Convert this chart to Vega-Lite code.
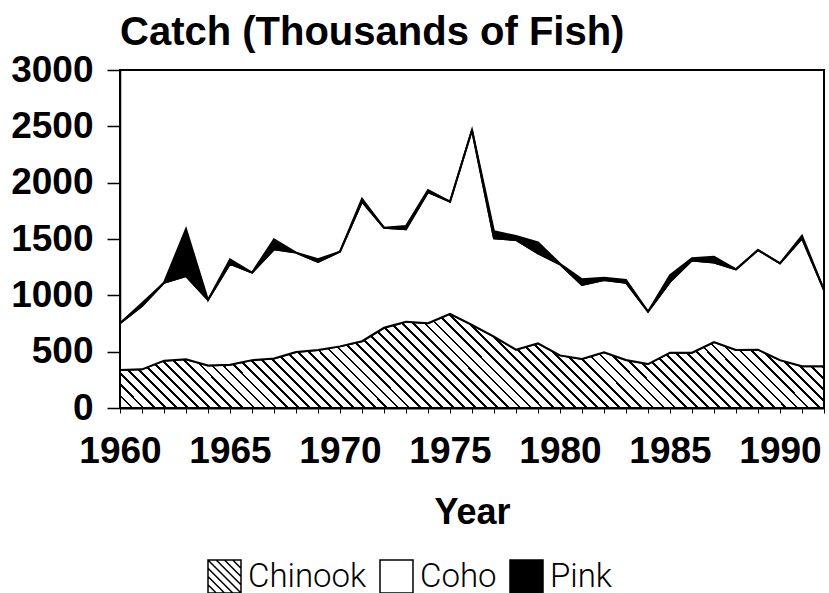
{
  "$schema": "https://vega.github.io/schema/vega-lite/v6.json",
  "width": 704,
  "height": 338,
  "autosize": {"type": "none"},
  "padding": {"left": 120, "top": 70, "right": 5, "bottom": 185},
  "background": "white",
  "title": {"text": "Catch (Thousands of Fish)", "anchor": "start", "frame": "group", "font": "Liberation Sans", "fontSize": 40, "fontWeight": "bold", "color": "black", "offset": -2},
  "config": {"view": {"stroke": "black", "strokeWidth": 2}},
  "data": {"values": [
    {"year": 1960, "Chinook": 337, "Coho": 415, "Pink": 0},
    {"year": 1961, "Chinook": 343, "Coho": 562, "Pink": 25},
    {"year": 1962, "Chinook": 420, "Coho": 692, "Pink": 0},
    {"year": 1963, "Chinook": 432, "Coho": 740, "Pink": 417},
    {"year": 1964, "Chinook": 378, "Coho": 581, "Pink": 0},
    {"year": 1965, "Chinook": 383, "Coho": 897, "Pink": 40},
    {"year": 1966, "Chinook": 425, "Coho": 776, "Pink": 0},
    {"year": 1967, "Chinook": 440, "Coho": 968, "Pink": 89},
    {"year": 1968, "Chinook": 497, "Coho": 882, "Pink": 0},
    {"year": 1969, "Chinook": 515, "Coho": 781, "Pink": 24},
    {"year": 1970, "Chinook": 547, "Coho": 841, "Pink": 0},
    {"year": 1971, "Chinook": 593, "Coho": 1238, "Pink": 27},
    {"year": 1972, "Chinook": 712, "Coho": 888, "Pink": 0},
    {"year": 1973, "Chinook": 766, "Coho": 820, "Pink": 29},
    {"year": 1974, "Chinook": 752, "Coho": 1165, "Pink": 18},
    {"year": 1975, "Chinook": 836, "Coho": 995, "Pink": 0},
    {"year": 1976, "Chinook": 737, "Coho": 1731, "Pink": 0},
    {"year": 1977, "Chinook": 633, "Coho": 873, "Pink": 62},
    {"year": 1978, "Chinook": 518, "Coho": 973, "Pink": 36},
    {"year": 1979, "Chinook": 574, "Coho": 799, "Pink": 98},
    {"year": 1980, "Chinook": 467, "Coho": 808, "Pink": 5},
    {"year": 1981, "Chinook": 435, "Coho": 657, "Pink": 50},
    {"year": 1982, "Chinook": 495, "Coho": 641, "Pink": 21},
    {"year": 1983, "Chinook": 426, "Coho": 686, "Pink": 24},
    {"year": 1984, "Chinook": 390, "Coho": 465, "Pink": 0},
    {"year": 1985, "Chinook": 491, "Coho": 629, "Pink": 58},
    {"year": 1986, "Chinook": 491, "Coho": 819, "Pink": 19},
    {"year": 1987, "Chinook": 585, "Coho": 707, "Pink": 51},
    {"year": 1988, "Chinook": 515, "Coho": 716, "Pink": 0},
    {"year": 1989, "Chinook": 518, "Coho": 884, "Pink": 0},
    {"year": 1990, "Chinook": 425, "Coho": 859, "Pink": 0},
    {"year": 1991, "Chinook": 370, "Coho": 1136, "Pink": 24},
    {"year": 1992, "Chinook": 370, "Coho": 677, "Pink": 0}
  ]},
  "transform": [{"fold": ["Chinook", "Coho", "Pink"], "as": ["species", "catch"]}],
  "encoding": {
    "x": {
      "field": "year", "type": "quantitative",
      "scale": {"domain": [1960, 1992], "nice": false, "zero": false},
      "axis": {
        "values": [1960,1961,1962,1963,1964,1965,1966,1967,1968,1969,1970,1971,1972,1973,1974,1975,1976,1977,1978,1979,1980,1981,1982,1983,1984,1985,1986,1987,1988,1989,1990,1991,1992],
        "labelExpr": "datum.value % 5 === 0 ? datum.label : ''",
        "format": "d", "grid": false,
        "tickSize": 5, "tickWidth": 1, "tickColor": "black",
        "domainColor": "black", "domainWidth": 2,
        "labelFont": "Liberation Sans", "labelFontSize": 37, "labelFontWeight": "bold", "labelColor": "black",
        "labelPadding": 20, "labelFlush": false, "labelOverlap": false, "labelBound": false,
        "title": "Year", "titleFont": "Liberation Sans", "titleFontSize": 36, "titleFontWeight": "bold", "titleColor": "black", "titlePadding": 26
      }
    },
    "y": {
      "field": "catch", "type": "quantitative", "stack": "zero",
      "scale": {"domain": [0, 3000], "nice": false},
      "axis": {
        "values": [0, 500, 1000, 1500, 2000, 2500, 3000],
        "format": "d", "grid": false, "title": null,
        "tickSize": 13, "tickWidth": 1.5, "tickColor": "black",
        "domainColor": "black", "domainWidth": 1.5,
        "labelFont": "Liberation Sans", "labelFontSize": 37, "labelFontWeight": "bold", "labelColor": "black",
        "labelPadding": 14
      }
    },
    "order": {"field": "species", "sort": "ascending"}
  },
  "layer": [
    {
      "mark": {"type": "area", "stroke": "black", "strokeWidth": 2, "interpolate": "linear"},
      "encoding": {
        "detail": {"field": "species", "type": "nominal"},
        "fill": {
          "condition": [
            {"test": "datum.species === 'Chinook'", "value": {"gradient": "linear", "x1": 0, "y1": 1, "x2": 1.1137, "y2": 0.8513, "stops": [
            {"offset":0,"color":"#000"},{"offset":0.0035,"color":"#000"},{"offset":0.0035,"color":"#fff"},{"offset":0.0139,"color":"#fff"},
            {"offset":0.0139,"color":"#000"},{"offset":0.0174,"color":"#000"},{"offset":0.0174,"color":"#fff"},{"offset":0.0278,"color":"#fff"},
            {"offset":0.0278,"color":"#000"},{"offset":0.0313,"color":"#000"},{"offset":0.0313,"color":"#fff"},{"offset":0.0417,"color":"#fff"},
            {"offset":0.0417,"color":"#000"},{"offset":0.0452,"color":"#000"},{"offset":0.0452,"color":"#fff"},{"offset":0.0556,"color":"#fff"},
            {"offset":0.0556,"color":"#000"},{"offset":0.0591,"color":"#000"},{"offset":0.0591,"color":"#fff"},{"offset":0.0694,"color":"#fff"},
            {"offset":0.0694,"color":"#000"},{"offset":0.0729,"color":"#000"},{"offset":0.0729,"color":"#fff"},{"offset":0.0833,"color":"#fff"},
            {"offset":0.0833,"color":"#000"},{"offset":0.0868,"color":"#000"},{"offset":0.0868,"color":"#fff"},{"offset":0.0972,"color":"#fff"},
            {"offset":0.0972,"color":"#000"},{"offset":0.1007,"color":"#000"},{"offset":0.1007,"color":"#fff"},{"offset":0.1111,"color":"#fff"},
            {"offset":0.1111,"color":"#000"},{"offset":0.1146,"color":"#000"},{"offset":0.1146,"color":"#fff"},{"offset":0.125,"color":"#fff"},
            {"offset":0.125,"color":"#000"},{"offset":0.1285,"color":"#000"},{"offset":0.1285,"color":"#fff"},{"offset":0.1389,"color":"#fff"},
            {"offset":0.1389,"color":"#000"},{"offset":0.1424,"color":"#000"},{"offset":0.1424,"color":"#fff"},{"offset":0.1528,"color":"#fff"},
            {"offset":0.1528,"color":"#000"},{"offset":0.1563,"color":"#000"},{"offset":0.1563,"color":"#fff"},{"offset":0.1667,"color":"#fff"},
            {"offset":0.1667,"color":"#000"},{"offset":0.1702,"color":"#000"},{"offset":0.1702,"color":"#fff"},{"offset":0.1806,"color":"#fff"},
            {"offset":0.1806,"color":"#000"},{"offset":0.1841,"color":"#000"},{"offset":0.1841,"color":"#fff"},{"offset":0.1944,"color":"#fff"},
            {"offset":0.1944,"color":"#000"},{"offset":0.1979,"color":"#000"},{"offset":0.1979,"color":"#fff"},{"offset":0.2083,"color":"#fff"},
            {"offset":0.2083,"color":"#000"},{"offset":0.2118,"color":"#000"},{"offset":0.2118,"color":"#fff"},{"offset":0.2222,"color":"#fff"},
            {"offset":0.2222,"color":"#000"},{"offset":0.2257,"color":"#000"},{"offset":0.2257,"color":"#fff"},{"offset":0.2361,"color":"#fff"},
            {"offset":0.2361,"color":"#000"},{"offset":0.2396,"color":"#000"},{"offset":0.2396,"color":"#fff"},{"offset":0.25,"color":"#fff"},
            {"offset":0.25,"color":"#000"},{"offset":0.2535,"color":"#000"},{"offset":0.2535,"color":"#fff"},{"offset":0.2639,"color":"#fff"},
            {"offset":0.2639,"color":"#000"},{"offset":0.2674,"color":"#000"},{"offset":0.2674,"color":"#fff"},{"offset":0.2778,"color":"#fff"},
            {"offset":0.2778,"color":"#000"},{"offset":0.2813,"color":"#000"},{"offset":0.2813,"color":"#fff"},{"offset":0.2917,"color":"#fff"},
            {"offset":0.2917,"color":"#000"},{"offset":0.2952,"color":"#000"},{"offset":0.2952,"color":"#fff"},{"offset":0.3056,"color":"#fff"},
            {"offset":0.3056,"color":"#000"},{"offset":0.3091,"color":"#000"},{"offset":0.3091,"color":"#fff"},{"offset":0.3194,"color":"#fff"},
            {"offset":0.3194,"color":"#000"},{"offset":0.3229,"color":"#000"},{"offset":0.3229,"color":"#fff"},{"offset":0.3333,"color":"#fff"},
            {"offset":0.3333,"color":"#000"},{"offset":0.3368,"color":"#000"},{"offset":0.3368,"color":"#fff"},{"offset":0.3472,"color":"#fff"},
            {"offset":0.3472,"color":"#000"},{"offset":0.3507,"color":"#000"},{"offset":0.3507,"color":"#fff"},{"offset":0.3611,"color":"#fff"},
            {"offset":0.3611,"color":"#000"},{"offset":0.3646,"color":"#000"},{"offset":0.3646,"color":"#fff"},{"offset":0.375,"color":"#fff"},
            {"offset":0.375,"color":"#000"},{"offset":0.3785,"color":"#000"},{"offset":0.3785,"color":"#fff"},{"offset":0.3889,"color":"#fff"},
            {"offset":0.3889,"color":"#000"},{"offset":0.3924,"color":"#000"},{"offset":0.3924,"color":"#fff"},{"offset":0.4028,"color":"#fff"},
            {"offset":0.4028,"color":"#000"},{"offset":0.4063,"color":"#000"},{"offset":0.4063,"color":"#fff"},{"offset":0.4167,"color":"#fff"},
            {"offset":0.4167,"color":"#000"},{"offset":0.4202,"color":"#000"},{"offset":0.4202,"color":"#fff"},{"offset":0.4306,"color":"#fff"},
            {"offset":0.4306,"color":"#000"},{"offset":0.4341,"color":"#000"},{"offset":0.4341,"color":"#fff"},{"offset":0.4444,"color":"#fff"},
            {"offset":0.4444,"color":"#000"},{"offset":0.4479,"color":"#000"},{"offset":0.4479,"color":"#fff"},{"offset":0.4583,"color":"#fff"},
            {"offset":0.4583,"color":"#000"},{"offset":0.4618,"color":"#000"},{"offset":0.4618,"color":"#fff"},{"offset":0.4722,"color":"#fff"},
            {"offset":0.4722,"color":"#000"},{"offset":0.4757,"color":"#000"},{"offset":0.4757,"color":"#fff"},{"offset":0.4861,"color":"#fff"},
            {"offset":0.4861,"color":"#000"},{"offset":0.4896,"color":"#000"},{"offset":0.4896,"color":"#fff"},{"offset":0.5,"color":"#fff"},
            {"offset":0.5,"color":"#000"},{"offset":0.5035,"color":"#000"},{"offset":0.5035,"color":"#fff"},{"offset":0.5139,"color":"#fff"},
            {"offset":0.5139,"color":"#000"},{"offset":0.5174,"color":"#000"},{"offset":0.5174,"color":"#fff"},{"offset":0.5278,"color":"#fff"},
            {"offset":0.5278,"color":"#000"},{"offset":0.5313,"color":"#000"},{"offset":0.5313,"color":"#fff"},{"offset":0.5417,"color":"#fff"},
            {"offset":0.5417,"color":"#000"},{"offset":0.5452,"color":"#000"},{"offset":0.5452,"color":"#fff"},{"offset":0.5556,"color":"#fff"},
            {"offset":0.5556,"color":"#000"},{"offset":0.5591,"color":"#000"},{"offset":0.5591,"color":"#fff"},{"offset":0.5694,"color":"#fff"},
            {"offset":0.5694,"color":"#000"},{"offset":0.5729,"color":"#000"},{"offset":0.5729,"color":"#fff"},{"offset":0.5833,"color":"#fff"},
            {"offset":0.5833,"color":"#000"},{"offset":0.5868,"color":"#000"},{"offset":0.5868,"color":"#fff"},{"offset":0.5972,"color":"#fff"},
            {"offset":0.5972,"color":"#000"},{"offset":0.6007,"color":"#000"},{"offset":0.6007,"color":"#fff"},{"offset":0.6111,"color":"#fff"},
            {"offset":0.6111,"color":"#000"},{"offset":0.6146,"color":"#000"},{"offset":0.6146,"color":"#fff"},{"offset":0.625,"color":"#fff"},
            {"offset":0.625,"color":"#000"},{"offset":0.6285,"color":"#000"},{"offset":0.6285,"color":"#fff"},{"offset":0.6389,"color":"#fff"},
            {"offset":0.6389,"color":"#000"},{"offset":0.6424,"color":"#000"},{"offset":0.6424,"color":"#fff"},{"offset":0.6528,"color":"#fff"},
            {"offset":0.6528,"color":"#000"},{"offset":0.6563,"color":"#000"},{"offset":0.6563,"color":"#fff"},{"offset":0.6667,"color":"#fff"},
            {"offset":0.6667,"color":"#000"},{"offset":0.6702,"color":"#000"},{"offset":0.6702,"color":"#fff"},{"offset":0.6806,"color":"#fff"},
            {"offset":0.6806,"color":"#000"},{"offset":0.6841,"color":"#000"},{"offset":0.6841,"color":"#fff"},{"offset":0.6944,"color":"#fff"},
            {"offset":0.6944,"color":"#000"},{"offset":0.6979,"color":"#000"},{"offset":0.6979,"color":"#fff"},{"offset":0.7083,"color":"#fff"},
            {"offset":0.7083,"color":"#000"},{"offset":0.7118,"color":"#000"},{"offset":0.7118,"color":"#fff"},{"offset":0.7222,"color":"#fff"},
            {"offset":0.7222,"color":"#000"},{"offset":0.7257,"color":"#000"},{"offset":0.7257,"color":"#fff"},{"offset":0.7361,"color":"#fff"},
            {"offset":0.7361,"color":"#000"},{"offset":0.7396,"color":"#000"},{"offset":0.7396,"color":"#fff"},{"offset":0.75,"color":"#fff"},
            {"offset":0.75,"color":"#000"},{"offset":0.7535,"color":"#000"},{"offset":0.7535,"color":"#fff"},{"offset":0.7639,"color":"#fff"},
            {"offset":0.7639,"color":"#000"},{"offset":0.7674,"color":"#000"},{"offset":0.7674,"color":"#fff"},{"offset":0.7778,"color":"#fff"},
            {"offset":0.7778,"color":"#000"},{"offset":0.7813,"color":"#000"},{"offset":0.7813,"color":"#fff"},{"offset":0.7917,"color":"#fff"},
            {"offset":0.7917,"color":"#000"},{"offset":0.7952,"color":"#000"},{"offset":0.7952,"color":"#fff"},{"offset":0.8056,"color":"#fff"},
            {"offset":0.8056,"color":"#000"},{"offset":0.8091,"color":"#000"},{"offset":0.8091,"color":"#fff"},{"offset":0.8194,"color":"#fff"},
            {"offset":0.8194,"color":"#000"},{"offset":0.8229,"color":"#000"},{"offset":0.8229,"color":"#fff"},{"offset":0.8333,"color":"#fff"},
            {"offset":0.8333,"color":"#000"},{"offset":0.8368,"color":"#000"},{"offset":0.8368,"color":"#fff"},{"offset":0.8472,"color":"#fff"},
            {"offset":0.8472,"color":"#000"},{"offset":0.8507,"color":"#000"},{"offset":0.8507,"color":"#fff"},{"offset":0.8611,"color":"#fff"},
            {"offset":0.8611,"color":"#000"},{"offset":0.8646,"color":"#000"},{"offset":0.8646,"color":"#fff"},{"offset":0.875,"color":"#fff"},
            {"offset":0.875,"color":"#000"},{"offset":0.8785,"color":"#000"},{"offset":0.8785,"color":"#fff"},{"offset":0.8889,"color":"#fff"},
            {"offset":0.8889,"color":"#000"},{"offset":0.8924,"color":"#000"},{"offset":0.8924,"color":"#fff"},{"offset":0.9028,"color":"#fff"},
            {"offset":0.9028,"color":"#000"},{"offset":0.9063,"color":"#000"},{"offset":0.9063,"color":"#fff"},{"offset":0.9167,"color":"#fff"},
            {"offset":0.9167,"color":"#000"},{"offset":0.9202,"color":"#000"},{"offset":0.9202,"color":"#fff"},{"offset":0.9306,"color":"#fff"},
            {"offset":0.9306,"color":"#000"},{"offset":0.9341,"color":"#000"},{"offset":0.9341,"color":"#fff"},{"offset":0.9444,"color":"#fff"},
            {"offset":0.9444,"color":"#000"},{"offset":0.9479,"color":"#000"},{"offset":0.9479,"color":"#fff"},{"offset":0.9583,"color":"#fff"},
            {"offset":0.9583,"color":"#000"},{"offset":0.9618,"color":"#000"},{"offset":0.9618,"color":"#fff"},{"offset":0.9722,"color":"#fff"},
            {"offset":0.9722,"color":"#000"},{"offset":0.9757,"color":"#000"},{"offset":0.9757,"color":"#fff"},{"offset":0.9861,"color":"#fff"},
            {"offset":0.9861,"color":"#000"},{"offset":0.9896,"color":"#000"},{"offset":0.9896,"color":"#fff"},{"offset":1,"color":"#fff"}
            ]}},
            {"test": "datum.species === 'Pink'", "value": "black"}
          ],
          "value": "white"
        }
      }
    },
    {
      "transform": [{"filter": "datum.year < 0"}],
      "mark": {"type": "point", "filled": true, "strokeWidth": 1.5},
      "encoding": {
        "shape": {
          "field": "species", "type": "nominal",
          "scale": {"domain": ["Chinook", "Coho", "Pink"], "range": ["M-1,-1L1,-1L1,1L-1,1Z M-1,-1L1,1 M-0.5,-1L1,0.5 M0,-1L1,0 M0.5,-1L1,-0.5 M-1,-0.5L0.5,1 M-1,0L0,1 M-1,0.5L-0.5,1", "square", "square"]},
          "legend": {
            "orient": "none", "legendX": 87, "legendY": 489, "direction": "horizontal",
            "title": null, "padding": 0,
            "symbolSize": 1089, "symbolStrokeColor": "black", "symbolStrokeWidth": 1.5, "symbolOpacity": 1,
            "labelFont": "Roboto", "labelFontWeight": 300, "labelFontSize": 33, "labelColor": "black", "labelOffset": 6,
            "columnPadding": 10
          }
        },
        "fill": {
          "field": "species", "type": "nominal",
          "scale": {"domain": ["Chinook", "Coho", "Pink"], "range": ["white", "white", "black"]},
          "legend": {
            "orient": "none", "legendX": 87, "legendY": 489, "direction": "horizontal",
            "title": null, "padding": 0,
            "symbolSize": 1089, "symbolStrokeColor": "black", "symbolStrokeWidth": 1.5, "symbolOpacity": 1,
            "labelFont": "Roboto", "labelFontWeight": 300, "labelFontSize": 33, "labelColor": "black", "labelOffset": 6,
            "columnPadding": 10
          }
        },
        "stroke": {
          "field": "species", "type": "nominal",
          "scale": {"domain": ["Chinook", "Coho", "Pink"], "range": ["black", "black", "black"]},
          "legend": {
            "orient": "none", "legendX": 87, "legendY": 489, "direction": "horizontal",
            "title": null, "padding": 0,
            "symbolSize": 1089, "symbolStrokeColor": "black", "symbolStrokeWidth": 1.5, "symbolOpacity": 1,
            "labelFont": "Roboto", "labelFontWeight": 300, "labelFontSize": 33, "labelColor": "black", "labelOffset": 6,
            "columnPadding": 10
          }
        }
      }
    }
  ]
}
